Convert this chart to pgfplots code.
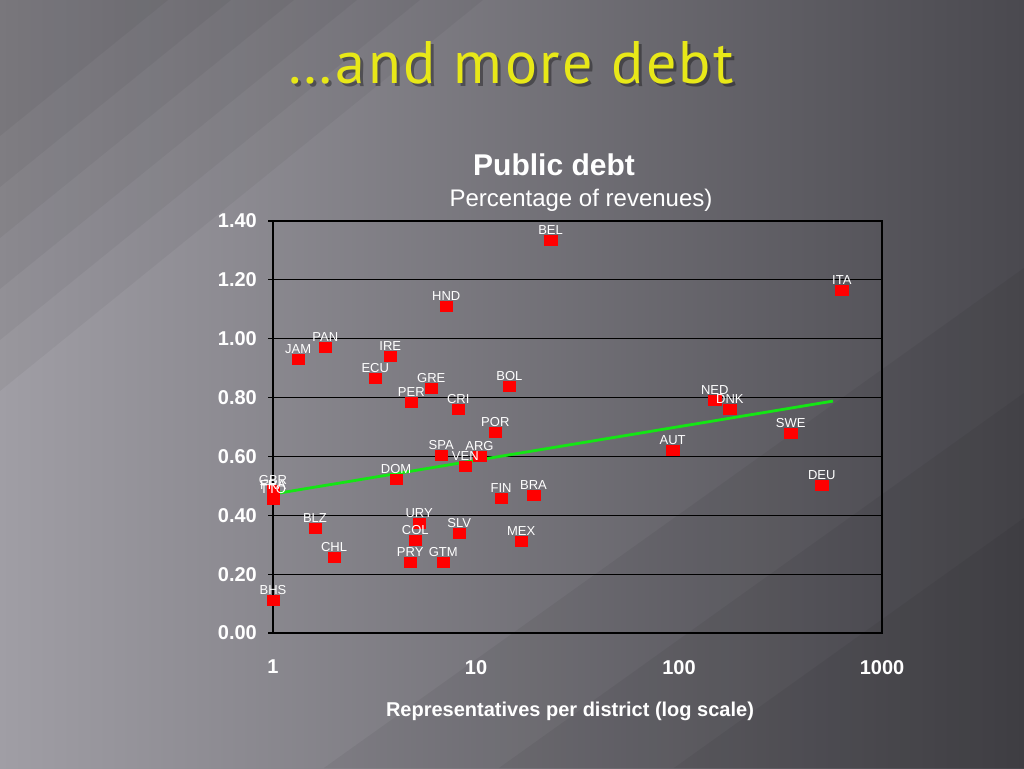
\documentclass[border=0pt]{standalone}
\usepackage{fontspec}
\setmainfont{Liberation Sans}
\newfontfamily\titlefont[LetterSpace=4]{PT Sans}
\usepackage{pgfplots}
\pgfplotsset{compat=1.18}
\usepackage{pgfplotstable}
\usetikzlibrary{fadings}

\definecolor{bgL}{RGB}{160,158,165}
\definecolor{bgR}{RGB}{74,73,79}
\definecolor{ttl}{RGB}{232,232,24}
\definecolor{trend}{RGB}{20,230,20}

% representatives per district, public debt / revenues, country
\pgfplotstableread{
x y lab
23.3 1.335 BEL
634 1.166 ITA
7.14 1.111 HND
1.81 0.972 PAN
1.33 0.931 JAM
3.78 0.941 IRE
3.19 0.866 ECU
6.02 0.833 GRE
14.6 0.839 BOL
4.80 0.785 PER
8.18 0.761 CRI
12.45 0.683 POR
6.74 0.605 SPA
10.4 0.601 ARG
8.86 0.567 VEN
4.04 0.523 DOM
13.3 0.459 FIN
19.2 0.469 BRA
5.25 0.374 URY
8.27 0.340 SLV
5.02 0.316 COL
16.7 0.313 MEX
4.74 0.241 PRY
6.90 0.241 GTM
1.61 0.357 BLZ
2.0 0.258 CHL
1.0 0.112 BHS
1.0 0.485 GBR
1.0 0.470 FRA
1.0 0.455 TTO
150 0.792 NED
178 0.761 DNK
355 0.680 SWE
93 0.622 AUT
505 0.503 DEU
}\debt

\begin{document}
\begin{tikzpicture}[x=1pt,y=1pt]
% slide background
\shade[left color=bgL, right color=bgR] (0,0) rectangle (1024,768);
\foreach \s in {1.15,1.0,0.85,0.7,0.55,0.4}
  \fill[black, opacity=0.045] (0,768) -- (420*\s,768) -- (0,768-340*\s) -- cycle;
\foreach \s in {1,0.75,0.5}
  \fill[black, opacity=0.05] (1024,0) -- (1024-700*\s,0) -- (1024,500*\s) -- cycle;

% slide title
\node[anchor=base, text=black, opacity=0.35, font=\titlefont\fontsize{60}{62}\selectfont] at (514,681) {…and more debt};
\node[anchor=base, text=ttl, font=\titlefont\fontsize{60}{62}\selectfont] at (511,684) {…and more debt};

% chart titles
\node[anchor=base, text=white, font=\bfseries\fontsize{30}{32}\selectfont] at (554,592) {Public debt};
\node[anchor=base, text=white, font=\fontsize{24}{26}\selectfont] at (581,561) {Percentage of revenues)};
\node[anchor=base, text=white, font=\bfseries\fontsize{20}{22}\selectfont] at (570,52) {Representatives per district (log scale)};

\begin{axis}[
  at={(273pt,135pt)}, anchor=south west,
  scale only axis, width=609pt, height=412pt,
  xmode=log, xmin=1, xmax=1000, ymin=0, ymax=1.4,
  xtick={1,10,100,1000}, xticklabels={1,10,100,1000},
  xminorticks=false,
  ytick={0,0.2,0.4,0.6,0.8,1.0,1.2,1.4},
  yticklabels={0.00,0.20,0.40,0.60,0.80,1.00,1.20,1.40},
  ytick pos=left,
  ymajorgrids, grid style={black, line width=1.2pt},
  axis line style={black, line width=1.2pt},
  tick align=outside, major tick length=5pt,
  xtick style={draw=none}, ytick style={black, line width=1.2pt},
  ticklabel style={font=\bfseries\fontsize{20}{22}\selectfont, text=white},
  xticklabel style={inner sep=0pt, anchor=north, yshift=-22pt},
  yticklabel style={inner sep=0pt, anchor=east, xshift=-11pt},
  clip=false,
]
\addplot[only marks, color=red, mark=square*, mark size=5pt,
  mark options={fill=red, draw=red, xscale=1.25},
  point meta=explicit symbolic, nodes near coords,
  every node near coord/.append style={font=\fontsize{13}{15}\selectfont,
    text=white, anchor=south, inner sep=0pt, yshift=5pt}]
  table[x=x, y=y, meta=lab]{\debt};
\addplot[trend, line width=2.8pt] coordinates {(1,0.472) (573,0.788)};
\end{axis}
\end{tikzpicture}
\end{document}
